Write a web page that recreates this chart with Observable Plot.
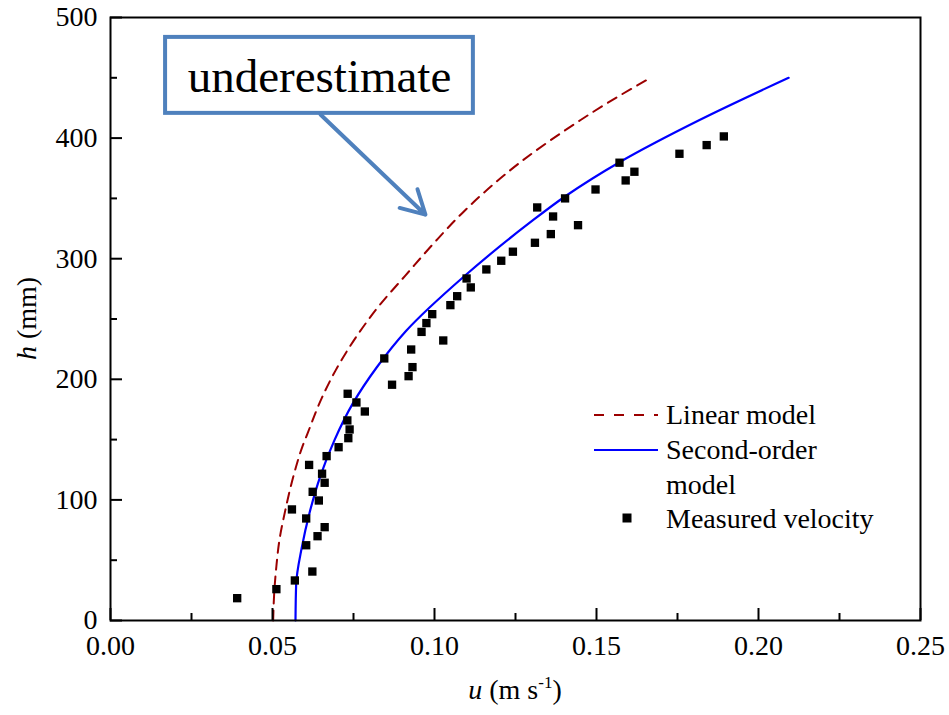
<!DOCTYPE html>
<html>
<head>
<meta charset="utf-8">
<script src="https://cdn.jsdelivr.net/npm/d3@7"></script>
<script src="https://cdn.jsdelivr.net/npm/@observablehq/plot@0.6"></script>
<style>
  body { margin: 0; background: #fff; }
  #chart { width: 949px; height: 715px; }
  #chart svg { display: block; }
</style>
</head>
<body>
<div id="chart"></div>
<script>
// Measured velocity profile: u (m/s) against height h (mm)
const measuredU = [0.0391,0.0512,0.0569,0.0623,0.0604,0.0639,0.0661,0.0604,0.0560,0.0643,
  0.0624,0.0661,0.0653,0.0613,0.0667,0.0704,0.0734,0.0738,0.0731,0.0785,
  0.0759,0.0732,0.0869,0.0920,0.0932,0.0845,0.0928,0.1027,0.0960,0.0975,
  0.0993,0.1049,0.1070,0.1112,0.1099,0.1160,0.1206,0.1242,0.1310,0.1359,
  0.1443,0.1366,0.1317,0.1403,0.1497,0.1590,0.1617,0.1571,0.1756,0.1840,0.1893];
const measuredH = [18.5,26.0,33.2,40.6,62.4,69.9,77.4,84.6,92.1,99.5,
  106.7,114.2,121.7,129.0,136.3,143.7,151.2,158.4,165.9,173.3,
  180.8,188.0,195.5,202.6,210.1,217.3,224.7,232.2,239.3,246.6,
  254.0,261.5,268.9,276.2,283.6,291.1,298.3,305.8,313.2,320.4,
  327.8,335.0,342.5,350.0,357.4,364.9,372.1,379.6,387.0,394.2,401.4];

// Linear model profile
const linearU = [0.0502,0.0506,0.0512,0.0521,0.0540,0.0565,0.0592,0.0608,0.0653,0.0694,
  0.0758,0.0832,0.0910,0.1005,0.1090,0.1265,0.1451,0.1533,0.1667];
const linearH = [0,26,45,66,92,120,144,155,185,207,235,262,286,315,339,380,415,429,450];

// Second-order model profile
const secondU = [0.0571,0.0573,0.0590,0.0615,0.0648,0.0692,0.0748,0.0822,0.0912,0.1090,
  0.1290,0.1405,0.1571,0.1818,0.2093];
const secondH = [0,30,60,90,120,150,180,210,240,285,329,352,380,415,450];

// Axis ticks
const xTicks = [0, 0.05, 0.10, 0.15, 0.20, 0.25];
const xMinorTicks = [0.025, 0.075, 0.125, 0.175, 0.225];
const yTicks = [0, 100, 200, 300, 400, 500];
const yMinorTicks = [50, 150, 250, 350, 450];

// Legend entries
const seriesNames = ["Linear model", "Second-order", "model", "Measured velocity"];

// Call-out annotation (data units)
const noteText = "underestimate";
const noteBox = {x1: 0.0170, x2: 0.1120, y1: 420.5, y2: 483.5};
const noteLabel = {x: 0.0645, y: 451};
const noteArrow = {x1: 0.0648, y1: 419.6, x2: 0.0972, y2: 336.5};

const measured = measuredU.map((u, i) => ({u, h: measuredH[i]}));
const linear = linearU.map((u, i) => ({u, h: linearH[i]}));
const second = secondU.map((u, i) => ({u, h: secondH[i]}));

const serif = '"Liberation Serif", "Times New Roman", serif';
const redDark = "#9b0000";
const blue = "#0000ff";
const noteBlue = "#4f81bd";

const chart = Plot.plot({
  width: 949,
  height: 715,
  marginLeft: 110,
  marginRight: 29,
  marginTop: 17,
  marginBottom: 95,
  style: {fontFamily: serif, fontSize: "28px", color: "#000", background: "#fff"},
  x: {domain: [0, 0.25], label: null},
  y: {domain: [0, 500], label: null},
  marks: [
    Plot.line(linear, {x: "u", y: "h", stroke: redDark, strokeWidth: 2, strokeDasharray: "10,7", curve: "monotone-y"}),
    Plot.line(second, {x: "u", y: "h", stroke: blue, strokeWidth: 2.2, curve: "monotone-y"}),
    Plot.dot(measured, {x: "u", y: "h", symbol: "square", r: 4.7, fill: "#000", stroke: null}),
    Plot.rect([noteBox], {x1: "x1", x2: "x2", y1: "y1", y2: "y2", fill: "#fff", stroke: noteBlue, strokeWidth: 4}),
    Plot.text([noteText], {x: noteLabel.x, y: noteLabel.y, text: d => d, fontSize: 47, fill: "#000"}),
    Plot.arrow([noteArrow], {x1: "x1", y1: "y1", x2: "x2", y2: "y2", stroke: noteBlue, strokeWidth: 4, headLength: 10, headAngle: 58}),
    // tick labels
    Plot.axisX(xTicks, {tickSize: 0, tickPadding: 15, tickFormat: d => d.toFixed(2), label: null}),
    Plot.axisY(yTicks, {tickSize: 0, tickPadding: 13, tickFormat: d => String(d), label: null}),
    // inward tick marks
    Plot.axisX(xTicks, {tickSize: -12, strokeWidth: 2, tickFormat: () => "", label: null}),
    Plot.axisX(xMinorTicks, {tickSize: -7, strokeWidth: 2, tickFormat: () => "", label: null}),
    Plot.axisY(yTicks, {tickSize: -12, strokeWidth: 2, tickFormat: () => "", label: null}),
    Plot.axisY(yMinorTicks, {tickSize: -7, strokeWidth: 2, tickFormat: () => "", label: null}),
    Plot.frame({stroke: "#000", strokeWidth: 2})
  ]
});

document.getElementById("chart").appendChild(chart);

const svg = d3.select(chart);

// Axis titles with italic variables and superscript unit
const xTitle = svg.append("text")
  .attr("x", 515).attr("y", 699)
  .attr("text-anchor", "middle")
  .style("font-family", serif).style("font-size", "28px").attr("fill", "#000");
xTitle.append("tspan").attr("font-style", "italic").text("u");
xTitle.append("tspan").text(" (m s");
xTitle.append("tspan").attr("font-size", "17px").attr("dy", "-11").text("-1");
xTitle.append("tspan").attr("dy", "11").text(")");

const yTitle = svg.append("text")
  .attr("transform", "translate(36,318.5) rotate(-90)")
  .attr("text-anchor", "middle")
  .style("font-family", serif).style("font-size", "28px").attr("fill", "#000");
yTitle.append("tspan").attr("font-style", "italic").text("h");
yTitle.append("tspan").text(" (mm)");

// Legend
const legend = svg.append("g")
  .attr("text-anchor", "start")
  .style("font-family", serif).style("font-size", "28px");
legend.append("line").attr("x1", 594).attr("x2", 658).attr("y1", 415).attr("y2", 415)
  .attr("stroke", redDark).attr("stroke-width", 2).attr("stroke-dasharray", "10,10");
legend.append("line").attr("x1", 594).attr("x2", 658).attr("y1", 450).attr("y2", 450)
  .attr("stroke", blue).attr("stroke-width", 2.2);
legend.append("rect").attr("x", 622.5).attr("y", 513.5).attr("width", 9).attr("height", 9).attr("fill", "#000");
const legendRows = [424, 459, 494, 528];
seriesNames.forEach((name, i) => {
  legend.append("text").attr("x", 666).attr("y", legendRows[i])
    .attr("text-anchor", "start").attr("fill", "#000").text(name);
});
</script>
</body>
</html>
